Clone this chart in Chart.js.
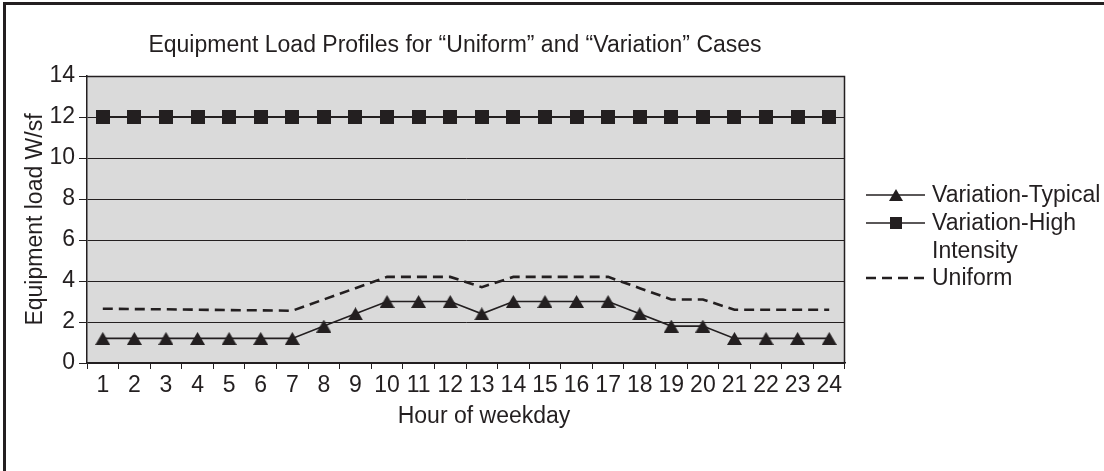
<!DOCTYPE html>
<html>
<head>
<meta charset="utf-8">
<script src="https://cdn.jsdelivr.net/npm/chart.js@4.4.1/dist/chart.umd.min.js"></script>
<style>
  html, body { margin: 0; padding: 0; background: #fff; }
  body { width: 1104px; height: 471px; position: relative; overflow: hidden;
    font-family: "Liberation Sans", Arial, sans-serif; color: #231f20; }
  #chart { position: absolute; left: 0; top: 0; }
  .frame { position: absolute; left: 3px; top: 2px; right: -10px; bottom: -10px;
    border-top: 3px solid #231f20; border-left: 3px solid #231f20; pointer-events: none; }
  .title { position: absolute; top: 30px; left: 0; width: 910px; text-align: center;
    font-size: 23px; line-height: 28px; white-space: nowrap; }
  .xtitle { position: absolute; top: 401px; left: 384px; width: 200px; text-align: center;
    font-size: 23px; line-height: 28px; }
  .legend { position: absolute; left: 864px; top: 181px; width: 240px; }
  .legend .item { display: flex; align-items: flex-start; }
  .legend svg { flex: none; }
  .legend span { width: 174px; font-size: 23px; line-height: 27.6px; }
</style>
</head>
<body>
<canvas id="chart" width="1104" height="471"></canvas>
<div class="frame"></div>
<div class="title">Equipment Load Profiles for “Uniform” and “Variation” Cases</div>
<div class="xtitle">Hour of weekday</div>
<div class="legend">
  <div class="item">
    <svg width="68" height="28"><line x1="2" y1="14" x2="61" y2="14" stroke="#231f20" stroke-width="1.6"/><polygon points="25,20 39,20 32,8" fill="#231f20"/></svg>
    <span>Variation-Typical</span>
  </div>
  <div class="item">
    <svg width="68" height="28"><line x1="2" y1="14" x2="61" y2="14" stroke="#231f20" stroke-width="1.6"/><rect x="26" y="8" width="12" height="12" fill="#231f20"/></svg>
    <span>Variation-High Intensity</span>
  </div>
  <div class="item">
    <svg width="68" height="28"><line x1="2" y1="14" x2="61" y2="14" stroke="#231f20" stroke-width="2.6" stroke-dasharray="10 6"/></svg>
    <span>Uniform</span>
  </div>
</div>
<script>
const hours = ["1","2","3","4","5","6","7","8","9","10","11","12",
  "13","14","15","16","17","18","19","20","21","22","23","24"];

const variationTypical = [1.2, 1.2, 1.2, 1.2, 1.2, 1.2, 1.2, 1.8, 2.4, 3.0, 3.0, 3.0,
  2.4, 3.0, 3.0, 3.0, 3.0, 2.4, 1.8, 1.8, 1.2, 1.2, 1.2, 1.2];

const variationHigh = [12, 12, 12, 12, 12, 12, 12, 12, 12, 12, 12, 12,
  12, 12, 12, 12, 12, 12, 12, 12, 12, 12, 12, 12];

const uniform = [2.65, 2.63, 2.62, 2.6, 2.58, 2.57, 2.55, 3.1, 3.65, 4.2, 4.2, 4.2,
  3.7, 4.2, 4.2, 4.2, 4.2, 3.65, 3.1, 3.1, 2.6, 2.6, 2.6, 2.6];

const yTicks = [0, 2, 4, 6, 8, 10, 12, 14];

const ink = "#231f20";
const FONT = "'Liberation Sans', Arial, sans-serif";

// marker images so the shapes sit centred on the point like the original
function makeMarker(kind) {
  const c = document.createElement("canvas");
  const ctx = c.getContext("2d");
  if (kind === "triangle") {
    c.width = 15; c.height = 13;
    ctx.fillStyle = ink;
    ctx.beginPath();
    ctx.moveTo(7.5, 0);
    ctx.lineTo(15, 13);
    ctx.lineTo(0, 13);
    ctx.closePath();
    ctx.fill();
  } else {
    c.width = 14; c.height = 14;
    ctx.fillStyle = ink;
    ctx.fillRect(0, 0, 14, 14);
  }
  return c;
}

const plotBackground = {
  id: "plotBackground",
  beforeDraw(chart) {
    const { ctx, chartArea: a } = chart;
    ctx.save();
    ctx.fillStyle = "#dadada";
    ctx.fillRect(a.left, a.top, a.right - a.left, a.bottom - a.top);
    ctx.restore();
  },
  afterDatasetsDraw(chart) {
    const { ctx, chartArea: a } = chart;
    ctx.save();
    ctx.strokeStyle = ink;
    ctx.lineWidth = 1.5;
    ctx.beginPath();
    ctx.moveTo(a.left, a.top + 0.5);
    ctx.lineTo(a.right - 0.5, a.top + 0.5);
    ctx.lineTo(a.right - 0.5, a.bottom);
    ctx.stroke();
    ctx.restore();
  },
};

new Chart(document.getElementById("chart"), {
  type: "line",
  data: {
    labels: hours,
    datasets: [
      {
        label: "Uniform",
        data: uniform,
        borderColor: ink,
        borderWidth: 2.6,
        borderDash: [10, 6],
        pointRadius: 0,
        tension: 0,
        order: 3,
      },
      {
        label: "Variation-High Intensity",
        data: variationHigh,
        borderColor: ink,
        borderWidth: 2,
        pointStyle: makeMarker("square"),
        pointRadius: 7,
        tension: 0,
        order: 2,
      },
      {
        label: "Variation-Typical",
        data: variationTypical,
        borderColor: ink,
        borderWidth: 1.6,
        pointStyle: makeMarker("triangle"),
        pointRadius: 7,
        tension: 0,
        order: 1,
      },
    ],
  },
  options: {
    responsive: false,
    animation: false,
    events: [],
    layout: { padding: { top: 76, right: 259, bottom: 68, left: 0 } },
    plugins: {
      legend: { display: false },
      title: { display: false },
      tooltip: { enabled: false },
    },
    scales: {
      x: {
        offset: true,
        grid: {
          offset: true,
          drawOnChartArea: false,
          color: ink,
          tickLength: 6,
          lineWidth: 1,
        },
        border: { color: ink, width: 1.5 },
        ticks: {
          autoSkip: false,
          maxRotation: 0,
          color: ink,
          padding: 3,
          font: { family: FONT, size: 23 },
        },
        afterFit: (s) => { s.height = 40; },
      },
      y: {
        min: 0,
        max: 14,
        afterBuildTicks: (s) => { s.ticks = yTicks.map((v) => ({ value: v })); },
        grid: { color: ink, lineWidth: 1, tickLength: 8 },
        border: { color: ink, width: 1.5 },
        ticks: {
          color: ink,
          padding: 4,
          font: { family: FONT, size: 23 },
        },
        title: {
          display: true,
          text: "Equipment load W/sf",
          color: ink,
          padding: { top: 22, bottom: 0 },
          font: { family: FONT, size: 23 },
        },
        afterFit: (s) => { s.width = 87; },
      },
    },
  },
  plugins: [plotBackground],
});
</script>
</body>
</html>
